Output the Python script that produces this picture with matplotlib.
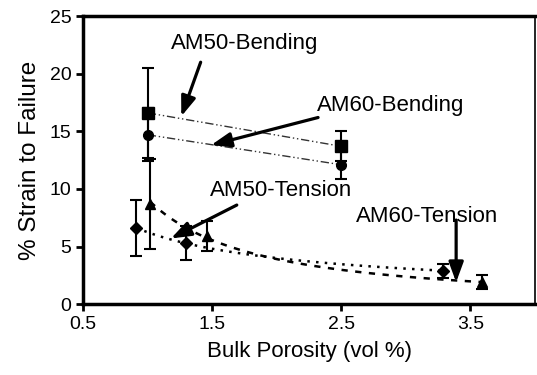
import numpy as np
import matplotlib.pyplot as plt

plt.rcParams['font.family'] = ['Liberation Sans', 'DejaVu Sans']

# Bending tests (two alloys)
bend_x = [1.0, 2.5]
am50_bend = [16.6, 13.7]
am50_bend_err = [3.9, 1.3]
am60_bend = [14.7, 12.1]
am60_bend_err = [2.3, 1.2]

# Tension tests
diam_x = [0.91, 1.30, 3.29]
diam_y = [6.6, 5.3, 2.9]
diam_err = [2.4, 1.5, 0.6]
tri_x = [1.02, 1.46, 3.59]
tri_y = [8.7, 5.9, 1.9]
tri_err = [3.9, 1.3, 0.6]

fig = plt.figure(figsize=(5.37, 3.75), dpi=100)
ax = fig.add_axes([0.155, 0.189, 0.841, 0.768])

ebkw = dict(color='black', ecolor='black', elinewidth=1.5, capsize=4, capthick=1.5)

# bending: dash-dot-dot connecting lines
ax.plot(bend_x, am50_bend, color='#333333', lw=1, ls=(0, (6, 2, 1, 2, 1, 2)))
ax.plot(bend_x, am60_bend, color='#333333', lw=1, ls=(0, (6, 2, 1, 2, 1, 2)))
ax.errorbar(bend_x, am50_bend, yerr=am50_bend_err, fmt='s', ms=8, ls='none', **ebkw)
ax.errorbar(bend_x, am60_bend, yerr=am60_bend_err, fmt='o', ms=7, ls='none', **ebkw)

# tension: power-law trend lines fitted to the points
for xs, ys, style in [(diam_x, diam_y, (0, (1, 2.5))), (tri_x, tri_y, (0, (2.5, 3)))]:
    k, b = np.polyfit(np.log(xs), np.log(ys), 1)
    xx = np.linspace(min(xs), max(xs), 100)
    ax.plot(xx, np.exp(b) * xx ** k, color='black', lw=1.8, ls=style)

ax.errorbar(diam_x, diam_y, yerr=diam_err, fmt='D', ms=6.5, ls='none', **ebkw)
ax.errorbar(tri_x, tri_y, yerr=tri_err, fmt='^', ms=7.5, ls='none', **ebkw)

# labels with arrows
labels = [
    ("AM50-Bending", (1.18, 22.6), (1.41, 21.0), (1.26, 16.3)),
    ("AM60-Bending", (2.31, 17.2), (2.32, 16.2), (1.49, 13.8)),
    ("AM50-Tension", (1.48, 9.9), (1.69, 8.6), (1.18, 5.7)),
    ("AM60-Tension", (2.61, 7.6), (3.39, 7.3), (3.39, 1.9)),
]
for txt, pos, tail, head in labels:
    ax.text(pos[0], pos[1], txt, fontsize=16, ha='left', va='center')
    ax.annotate("", xy=head, xytext=tail,
                arrowprops=dict(arrowstyle='-|>,head_length=0.6,head_width=0.22',
                                lw=2.3, color='black',
                                mutation_scale=20, shrinkA=0, shrinkB=0))

ax.set_xlim(0.5, 4.0)
ax.set_ylim(0, 25)
ax.set_xticks([0.5, 1.5, 2.5, 3.5])
ax.set_xticklabels(['0.5', '1.5', '2.5', '3.5'])
ax.set_yticks([0, 5, 10, 15, 20, 25])
ax.tick_params(labelsize=14, width=2, length=5, direction='out')
for s in ['left', 'bottom', 'top']:
    ax.spines[s].set_linewidth(2.5)
ax.spines['right'].set_linewidth(1.2)
ax.set_xlabel('Bulk Porosity (vol %)', fontsize=16, labelpad=6)
ax.set_ylabel('% Strain to Failure', fontsize=17.5, labelpad=6)

fig.savefig('out.png', dpi=100)
